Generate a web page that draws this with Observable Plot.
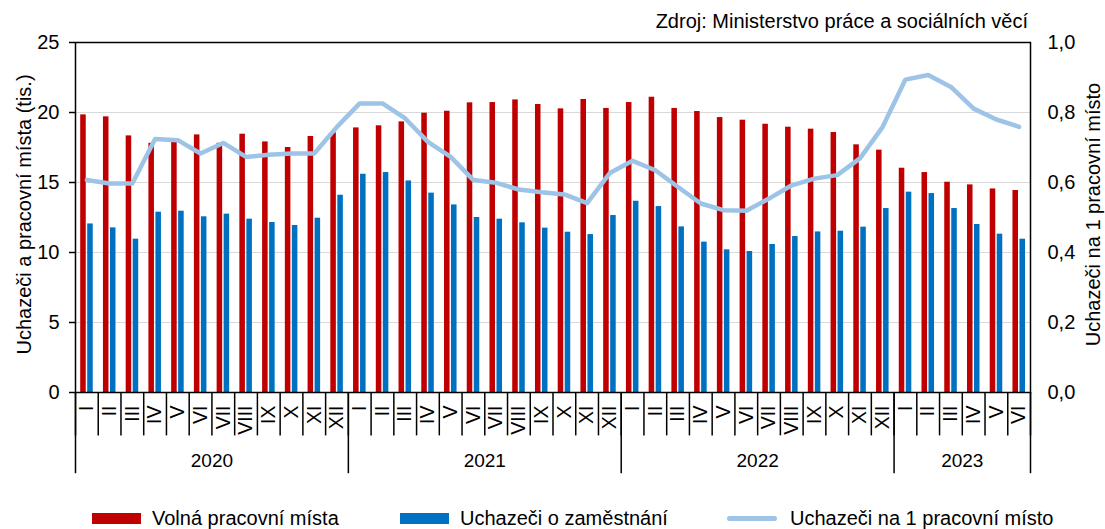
<!DOCTYPE html>
<html><head><meta charset="utf-8">
<script src="https://cdn.jsdelivr.net/npm/d3@7"></script>
<script src="https://cdn.jsdelivr.net/npm/@observablehq/plot@0.6"></script>
<style>
html,body{margin:0;padding:0;background:#fff;overflow:hidden;width:1105px;height:529px}
#legend{position:relative;height:34px;width:1105px;font-family:"Liberation Sans",Arial,sans-serif;font-size:20px;color:#000}
#legend .sw{position:absolute}
#legend .lb{position:absolute;line-height:20px;white-space:nowrap}
</style></head><body>
<div id="chart"></div>
<div id="legend"></div>
<script>
const romans = ["I","II","III","IV","V","VI","VII","VIII","IX","X","XI","XII"];
const years = [2020, 2021, 2022, 2023];
const monthsPerYear = [12, 12, 12, 6];
// Volná pracovní místa (tis.)
const vacancies = [
  19.83, 19.69, 18.33, 17.80, 17.90, 18.40, 17.80, 18.45, 17.90, 17.50, 18.29, 18.55,
  18.90, 19.05, 19.33, 19.95, 20.09, 20.69, 20.71, 20.90, 20.57, 20.26, 20.93, 20.29,
  20.71, 21.09, 20.29, 20.07, 19.64, 19.45, 19.16, 18.95, 18.81, 18.57, 17.69, 17.31,
  16.02, 15.71, 15.02, 14.83, 14.54, 14.43
];
// Uchazeči o zaměstnání (tis.)
const applicants = [
  12.04, 11.76, 10.95, 12.88, 12.95, 12.55, 12.74, 12.38, 12.14, 11.93, 12.45, 14.09,
  15.59, 15.71, 15.11, 14.24, 13.40, 12.50, 12.38, 12.12, 11.74, 11.45, 11.28, 12.64,
  13.66, 13.28, 11.83, 10.74, 10.19, 10.07, 10.57, 11.14, 11.47, 11.52, 11.81, 13.14,
  14.31, 14.21, 13.14, 12.00, 11.31, 10.95
];
// Uchazeči na 1 pracovní místo
const ratio = [
  0.607, 0.597, 0.597, 0.724, 0.721, 0.683, 0.713, 0.673, 0.679, 0.683, 0.683, 0.759,
  0.826, 0.826, 0.783, 0.716, 0.673, 0.607, 0.599, 0.580, 0.572, 0.566, 0.541, 0.627,
  0.662, 0.635, 0.587, 0.540, 0.521, 0.519, 0.554, 0.592, 0.611, 0.621, 0.669, 0.759,
  0.894, 0.907, 0.873, 0.811, 0.780, 0.759
];
const leftTicks = [0, 5, 10, 15, 20, 25];
const gridTicks = [5, 10, 15, 20];
const rightTicks = [0, 0.2, 0.4, 0.6, 0.8, 1.0];
const seriesNames = ["Volná pracovní místa", "Uchazeči o zaměstnání", "Uchazeči na 1 pracovní místo"];
const colors = ["#c00000", "#0070c0", "#9dc3e6"];
const leftTitle = "Uchazeči a pracovní místa (tis.)";
const rightTitle = "Uchazeči na 1 pracovní místo";
const sourceText = "Zdroj: Ministerstvo práce a sociálních věcí";

const rows = [];
let idx = 0;
const yearInfo = [];
years.forEach((yr, k) => {
  yearInfo.push({year: yr, start: idx, n: monthsPerYear[k]});
  for (let m = 0; m < monthsPerYear[k]; m++) {
    rows.push({i: idx, year: yr, month: romans[m], vac: vacancies[idx], app: applicants[idx], ratio: ratio[idx]});
    idx++;
  }
});
const N = rows.length;
const monthBounds = d3.range(N + 1).map(i => i - 0.5);
const yearBounds = [...yearInfo.map(d => d.start - 0.5), N - 0.5];
const RMAX = 25; // right axis 1.0 aligns with left axis 25
const fmt = v => v.toFixed(1).replace(".", ",");

const chart = Plot.plot({
  width: 1105, height: 495,
  marginTop: 42, marginBottom: 103, marginLeft: 75, marginRight: 75,
  style: {fontFamily: "Liberation Sans, Arial, sans-serif", fontSize: "20px", background: "#fff", color: "#000"},
  x: {type: "linear", domain: [-0.5, N - 0.5], axis: null},
  y: {domain: [0, 25], axis: null},
  marks: [
    Plot.gridY(gridTicks, {stroke: "#d9d9d9", strokeOpacity: 1, strokeWidth: 1}),
    Plot.rect(rows, {x1: d => d.i - 0.5, x2: d => d.i + 0.5, y1: 0, y2: "vac", fill: colors[0], insetLeft: 5.2, insetRight: 12}),
    Plot.rect(rows, {x1: d => d.i - 0.5, x2: d => d.i + 0.5, y1: 0, y2: "app", fill: colors[1], insetLeft: 12.2, insetRight: 5}),
    Plot.line(rows, {x: "i", y: d => d.ratio * RMAX, stroke: colors[2], strokeWidth: 4.5, strokeLinejoin: "round", strokeLinecap: "round"}),
    Plot.frame({stroke: "#000", strokeWidth: 1.5}),
    Plot.axisY(leftTicks, {anchor: "left", tickSize: 6, tickPadding: 10, fontSize: 20, label: null, tickFormat: d => String(d), strokeWidth: 1.5}),
    Plot.axisY(rightTicks.map(v => v * RMAX), {anchor: "right", tickSize: 0, tickPadding: 17, fontSize: 20, label: null, tickFormat: d => fmt(d / RMAX)}),
    Plot.ruleX(monthBounds, {x: d => d, y1: 0, y2: -3.1, stroke: "#000", strokeWidth: 1.5}),
    Plot.ruleX(yearBounds, {x: d => d, y1: 0, y2: -5.8, stroke: "#000", strokeWidth: 1.5}),
    Plot.text(rows, {x: "i", text: "month", frameAnchor: "bottom", dy: 13, rotate: -90, textAnchor: "end", lineAnchor: "middle", fontSize: 19.5, fill: "#000"}),
    Plot.text(yearInfo, {x: d => d.start + d.n / 2 - 0.5, text: d => String(d.year), frameAnchor: "bottom", dy: 68, textAnchor: "middle", lineAnchor: "middle", fontSize: 19, fill: "#000"}),
    Plot.text([sourceText], {text: d => d, frameAnchor: "top-right", textAnchor: "end", lineAnchor: "middle", dx: -2.5, dy: -20.7, fontSize: 20, fill: "#000"}),
    Plot.text([leftTitle], {text: d => d, frameAnchor: "left", rotate: -90, textAnchor: "middle", lineAnchor: "middle", dx: -51.4, dy: -3, fontSize: 20, fill: "#000"}),
    Plot.text([rightTitle], {text: d => d, frameAnchor: "right", rotate: -90, textAnchor: "middle", lineAnchor: "middle", dx: 63.5, dy: -3, fontSize: 20, fill: "#000"})
  ]
});
document.getElementById("chart").appendChild(chart);

// Legend below the chart
const legend = document.getElementById("legend");
const items = [
  {name: seriesNames[0], color: colors[0], kind: "rect", sx: 92, tx: 152},
  {name: seriesNames[1], color: colors[1], kind: "rect", sx: 400, tx: 460},
  {name: seriesNames[2], color: colors[2], kind: "line", sx: 727, tx: 790}
];
items.forEach(it => {
  const sw = document.createElement("div");
  sw.className = "sw";
  sw.style.left = it.sx + "px";
  sw.style.background = it.color;
  if (it.kind === "rect") {
    sw.style.top = "18px"; sw.style.width = "49px"; sw.style.height = "11px";
  } else {
    sw.style.top = "20.5px"; sw.style.width = "50px"; sw.style.height = "5px"; sw.style.borderRadius = "3px";
  }
  legend.appendChild(sw);
  const lb = document.createElement("div");
  lb.className = "lb";
  lb.style.left = it.tx + "px";
  lb.style.top = "12.5px";
  lb.textContent = it.name;
  legend.appendChild(lb);
});
</script>
</body></html>
